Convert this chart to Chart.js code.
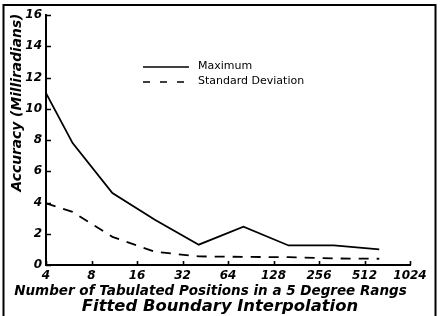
<!DOCTYPE html>
<html>
<head>
<meta charset="utf-8">
<script src="https://cdn.jsdelivr.net/npm/chart.js@4"></script>
<style>
  html, body { margin: 0; padding: 0; background: #ffffff; }
  #wrap { width: 442px; height: 316px; position: relative; }
</style>
</head>
<body>
<div id="wrap"><canvas id="c" width="442" height="316"></canvas></div>
<script>
// ---- data ----
const positions = [4, 6, 11, 21, 41, 81, 161, 321, 641];
const maximumValues = [11.0, 7.8, 4.6, 2.9, 1.3, 2.45, 1.25, 1.25, 1.0];
const stdDevValues = [3.95, 3.4, 1.8, 0.85, 0.55, 0.52, 0.5, 0.42, 0.4];
const xTickValues = [4, 8, 16, 32, 64, 128, 256, 512, 1024];
const yTickValues = [0, 2, 4, 6, 8, 10, 12, 14, 16];
const seriesLabels = ['Maximum', 'Standard Deviation'];
const xTitle = 'Number of Tabulated Positions in a 5 Degree Rangs';
const yTitle = 'Accuracy (Milliradians)';
const mainTitle = 'Fitted Boundary Interpolation';

const FONT = "'DejaVu Sans', 'Liberation Sans', sans-serif";

const toPoints = (xs, ys) => xs.map((x, i) => ({ x: x, y: ys[i] }));

const decorPlugin = {
  id: 'decor',
  afterDraw(chart) {
    const ctx = chart.ctx;
    const xs = chart.scales.x, ys = chart.scales.y;
    const area = chart.chartArea;
    ctx.save();
    // outer frame
    ctx.strokeStyle = '#000';
    ctx.lineWidth = 2;
    ctx.strokeRect(3.5, 5, 432, 330);

    // inward tick marks
    ctx.lineWidth = 1.6;
    ctx.beginPath();
    xTickValues.forEach(v => {
      const px = Math.round(xs.getPixelForValue(v)) + 0.5;
      ctx.moveTo(px, area.bottom);
      ctx.lineTo(px, area.bottom - 4);
    });
    yTickValues.forEach(v => {
      const py = Math.round(ys.getPixelForValue(v)) + 0.5;
      ctx.moveTo(area.left, py);
      ctx.lineTo(area.left + 5, py);
    });
    ctx.stroke();

    // legend
    const legendDash = [[], [7, 10]];
    chart.data.datasets.forEach((ds, i) => {
      const y = 67 + i * 15;
      ctx.beginPath();
      ctx.setLineDash(legendDash[i]);
      ctx.lineWidth = 1.5;
      ctx.strokeStyle = ds.borderColor;
      ctx.moveTo(143, y);
      ctx.lineTo(189, y);
      ctx.stroke();
      ctx.setLineDash([]);
      ctx.fillStyle = '#000';
      ctx.font = '11px ' + FONT;
      ctx.textAlign = 'left';
      ctx.textBaseline = 'middle';
      ctx.fillText(ds.label, 198, y - 0.5);
    });

    // titles
    ctx.fillStyle = '#000';
    ctx.textAlign = 'center';
    ctx.textBaseline = 'alphabetic';
    ctx.font = 'italic bold 13.5px ' + FONT;
    ctx.fillText(xTitle, 210.5, 295);
    ctx.font = 'italic bold 16.4px ' + FONT;
    ctx.fillText(mainTitle, 220, 311);

    ctx.save();
    ctx.translate(17, 102.5);
    ctx.rotate(-Math.PI / 2);
    ctx.font = 'italic bold 13.8px ' + FONT;
    ctx.textBaseline = 'middle';
    ctx.fillText(yTitle, 0, 0);
    ctx.restore();

    ctx.restore();
  }
};

new Chart(document.getElementById('c'), {
  type: 'line',
  data: {
    datasets: [
      {
        label: seriesLabels[0],
        data: toPoints(positions, maximumValues),
        borderColor: '#000',
        backgroundColor: '#000',
        borderWidth: 1.8,
        pointRadius: 0,
        tension: 0,
        fill: false
      },
      {
        label: seriesLabels[1],
        data: toPoints(positions, stdDevValues),
        borderColor: '#000',
        backgroundColor: '#000',
        borderWidth: 1.8,
        borderDash: [10, 8],
        pointRadius: 0,
        tension: 0,
        fill: false
      }
    ]
  },
  options: {
    responsive: false,
    animation: false,
    devicePixelRatio: 1,
    layout: { padding: { top: 15, right: 32, left: 0, bottom: 0 } },
    plugins: {
      legend: { display: false },
      title: { display: false },
      tooltip: { enabled: false }
    },
    scales: {
      x: {
        type: 'logarithmic',
        min: 4,
        max: 1024,
        afterBuildTicks: (scale) => { scale.ticks = xTickValues.map(v => ({ value: v })); },
        afterFit: (scale) => { scale.height = 51; },
        grid: { display: true, drawOnChartArea: false, drawTicks: false },
        border: { display: true, color: '#000', width: 2 },
        ticks: {
          autoSkip: false,
          maxRotation: 0,
          minRotation: 0,
          padding: 4,
          color: '#000',
          font: { family: FONT, size: 12, style: 'italic', weight: 'bold' },
          callback: (v) => String(v)
        }
      },
      y: {
        type: 'linear',
        min: 0,
        max: 16,
        afterBuildTicks: (scale) => { scale.ticks = yTickValues.map(v => ({ value: v })); },
        afterFit: (scale) => { scale.width = 46; },
        grid: { display: true, drawOnChartArea: false, drawTicks: false },
        border: { display: true, color: '#000', width: 2 },
        ticks: {
          padding: 4,
          color: '#000',
          font: { family: FONT, size: 12, style: 'italic', weight: 'bold' },
          callback: (v) => String(v)
        }
      }
    }
  },
  plugins: [decorPlugin]
});
</script>
</body>
</html>
